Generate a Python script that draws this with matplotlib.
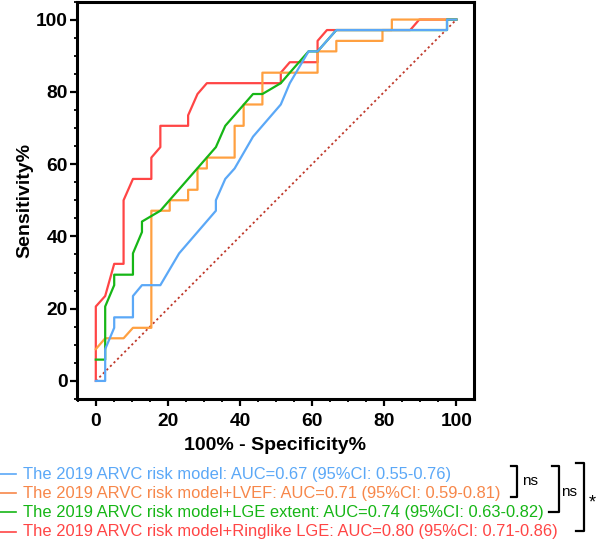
import numpy as np
import matplotlib
matplotlib.use("Agg")
import matplotlib.pyplot as plt
from matplotlib.lines import Line2D
from matplotlib.ticker import MultipleLocator

plt.rcParams['font.family'] = ['Liberation Sans', 'DejaVu Sans']

# ROC points (100% - specificity, sensitivity)
fpr_base = [0, 2.6, 2.6, 5.1, 5.1, 10.3, 10.3, 12.8, 17.9, 23.1, 33.3, 33.3, 35.9, 38.5,
            43.6, 51.3, 53.8, 59.0, 61.5, 66.7, 97.4, 97.4, 100]
tpr_base = [0, 0, 8.8, 14.7, 17.6, 17.6, 23.5, 26.5, 26.5, 35.3, 47.1, 50.0, 55.9, 58.8,
            67.6, 76.5, 82.4, 91.2, 91.2, 97.1, 97.1, 100, 100]

fpr_lvef = [0, 2.6, 7.7, 10.3, 15.4, 15.4, 20.5, 20.5, 25.6, 25.6, 28.2, 28.2, 30.8, 30.8,
            38.5, 38.5, 41.0, 41.0, 46.2, 46.2, 61.5, 61.5, 66.7, 66.7, 79.5, 79.5, 82.1, 82.1, 100]
tpr_lvef = [8.8, 11.8, 11.8, 14.7, 14.7, 47.1, 47.1, 50.0, 50.0, 52.9, 52.9, 58.8, 58.8, 61.8,
            61.8, 70.6, 70.6, 76.5, 76.5, 85.3, 85.3, 91.2, 91.2, 94.1, 94.1, 97.1, 97.1, 100, 100]

fpr_ext = [0, 2.6, 2.6, 5.1, 5.1, 10.3, 10.3, 12.8, 12.8, 17.9, 33.3, 35.9, 43.6, 46.2,
           51.3, 53.8, 59.0, 61.5, 66.7, 97.4, 97.4, 100]
tpr_ext = [5.9, 5.9, 20.6, 26.5, 29.4, 29.4, 35.3, 41.2, 44.1, 47.1, 64.7, 70.6, 79.4, 79.4,
           82.4, 85.3, 91.2, 91.2, 97.1, 97.1, 100, 100]

fpr_ring = [0, 0, 2.6, 5.1, 7.7, 7.7, 10.3, 15.4, 15.4, 17.9, 17.9, 25.6, 25.6, 28.2, 30.8,
            51.3, 51.3, 53.8, 61.5, 61.5, 64.1, 87.2, 89.7, 100]
tpr_ring = [0, 20.6, 23.5, 32.4, 32.4, 50.0, 55.9, 55.9, 61.8, 64.7, 70.6, 70.6, 73.5, 79.4,
            82.4, 82.4, 85.3, 88.2, 88.2, 94.1, 97.1, 97.1, 100, 100]

labels = ["The 2019 ARVC risk model: AUC=0.67 (95%CI: 0.55-0.76)",
          "The 2019 ARVC risk model+LVEF: AUC=0.71 (95%CI: 0.59-0.81)",
          "The 2019 ARVC risk model+LGE extent: AUC=0.74 (95%CI: 0.63-0.82)",
          "The 2019 ARVC risk model+Ringlike LGE: AUC=0.80 (95%CI: 0.71-0.86)"]
line_colors = ['#5BA8F7', '#FFA040', '#16B616', '#FF4545']
text_colors = ['#5BA8F7', '#F7874A', '#16B616', '#FF4545']

W, H = 597, 541
fig = plt.figure(figsize=(W / 100, H / 100), dpi=100)
ax = fig.add_axes([76.7 / W, 1 - 399 / H, 397 / W, 397.5 / H])

ax.plot([0, 100], [0, 100], color='#C0392B', lw=1.3, ls=(0, (1.2, 1.6)), zorder=1)
ax.plot(fpr_ring, tpr_ring, color=line_colors[3], lw=1.6, zorder=2)
ax.plot(fpr_lvef, tpr_lvef, color=line_colors[1], lw=1.6, zorder=3)
ax.plot(fpr_ext, tpr_ext, color=line_colors[2], lw=1.6, zorder=4)
ax.plot(fpr_base, tpr_base, color=line_colors[0], lw=1.6, zorder=5)

ax.set_xlim(-5.3, 104.8)
ax.set_ylim(-5, 105)
ax.xaxis.set_major_locator(MultipleLocator(20))
ax.yaxis.set_major_locator(MultipleLocator(20))
ax.xaxis.set_minor_locator(MultipleLocator(5))
ax.yaxis.set_minor_locator(MultipleLocator(5))
for s in ax.spines.values():
    s.set_linewidth(2.2)
ax.tick_params(which='major', length=5, width=1.6, labelsize=13.8, direction='out')
ax.tick_params(which='minor', length=2.5, width=1.3, direction='out')
ax.tick_params(axis='x', which='major', pad=5)
ax.tick_params(axis='y', which='major', pad=1.5)
for t in ax.get_xticklabels() + ax.get_yticklabels():
    t.set_fontweight('bold')

fig.text(275 / W, 1 - 445 / H, "100% - Specificity%", ha='center', va='center',
         fontsize=14, fontweight='bold')
fig.text(25 / W, 1 - 200 / H, "Sensitivity%", ha='center', va='center', rotation=90,
         fontsize=14, fontweight='bold')

# legend rows
rows_y = [474.3, 493.3, 512.3, 531.7]
for lab, lc, tc, y in zip(labels, line_colors, text_colors, rows_y):
    fig.add_artist(Line2D([0 / W, 16 / W], [1 - y / H, 1 - y / H], color=tc, lw=1.2))
    fig.text(23 / W, 1 - y / H, lab, color=tc, fontsize=11.9, ha='left', va='center')

# comparison brackets
def bracket(x, y0, y1, xl0, xl1):
    fig.add_artist(Line2D([xl0 / W, x / W, x / W, xl1 / W],
                          [1 - y0 / H, 1 - y0 / H, 1 - y1 / H, 1 - y1 / H],
                          color='black', lw=1.6))

bracket(517, 465.7, 496.7, 511, 511)
bracket(558.7, 465.7, 511.7, 552, 549)
bracket(583.7, 463.3, 530.7, 576, 576)
fig.text(530 / W, 1 - 481 / H, "ns", fontsize=11, ha='center', va='center')
fig.text(568.7 / W, 1 - 492.3 / H, "ns", fontsize=11, ha='center', va='center')
fig.text(592 / W, 1 - 503 / H, "*", fontsize=13, ha='center', va='center')

fig.savefig("out.png", dpi=100)
